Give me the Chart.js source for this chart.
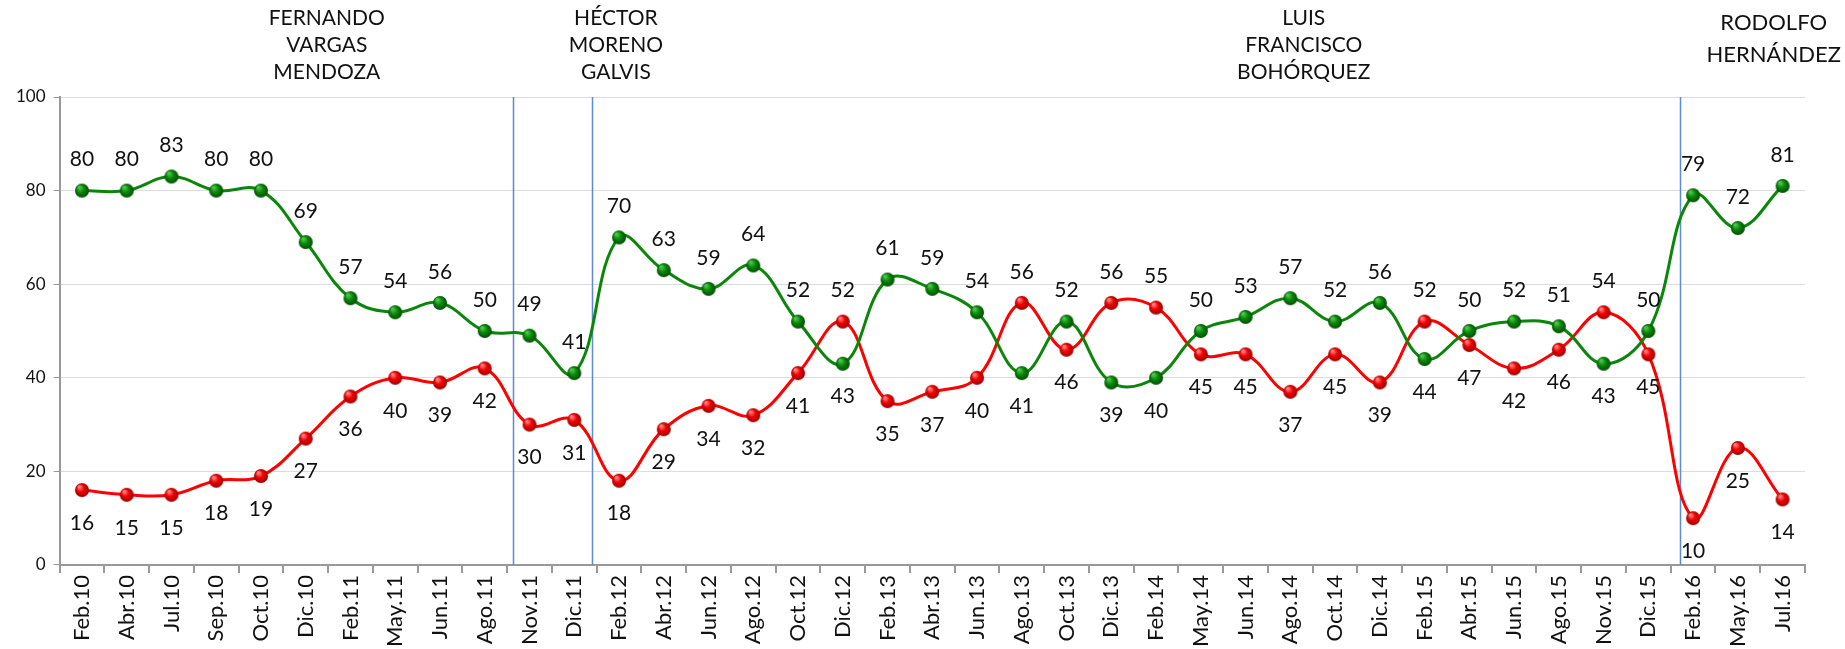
<!DOCTYPE html>
<html>
<head>
<meta charset="utf-8">
<script src="https://cdn.jsdelivr.net/npm/chart.js@4"></script>
<style>
  html, body { margin: 0; padding: 0; background: #fff; }
  #wrap { width: 1845px; height: 649px; }
</style>
</head>
<body>
<div id="wrap"><canvas id="myChart" width="1845" height="649"></canvas></div>
<script>
// categories (survey dates)
var categories = ['Feb.10','Abr.10','Jul.10','Sep.10','Oct.10','Dic.10','Feb.11','May.11','Jun.11','Ago.11',
    'Nov.11','Dic.11','Feb.12','Abr.12','Jun.12','Ago.12','Oct.12','Dic.12','Feb.13','Abr.13',
    'Jun.13','Ago.13','Oct.13','Dic.13','Feb.14','May.14','Jun.14','Ago.14','Oct.14','Dic.14',
    'Feb.15','Abr.15','Jun.15','Ago.15','Nov.15','Dic.15','Feb.16','May.16','Jul.16'];

// green series
var favorable = [80,80,83,80,80,69,57,54,56,50,49,41,70,63,59,64,52,43,61,59,
    54,41,52,39,40,50,53,57,52,56,44,50,52,51,43,50,79,72,81];

// red series
var unfavorable = [16,15,15,18,19,27,36,40,39,42,30,31,18,29,34,32,41,52,35,37,
    40,56,46,56,55,45,45,37,45,39,52,47,42,46,54,45,10,25,14];

var yTicks = [0, 20, 40, 60, 80, 100];

// mayors written above the chart
var mayorNames = [
    ['FERNANDO', 'VARGAS', 'MENDOZA'],
    ['HÉCTOR', 'MORENO', 'GALVIS'],
    ['LUIS', 'FRANCISCO', 'BOHÓRQUEZ'],
    ['RODOLFO', 'HERNÁNDEZ']
];
var mayorAt = [5.47, 11.93, 27.3, 37.8];   // in category units
var dividerAt = [9.64, 11.4, 35.71];       // vertical lines between terms

var FONT = 'Lato, "Open Sans", sans-serif';

function sphere(r, base, dark, light) {
    var c = document.createElement('canvas');
    c.width = c.height = 2 * r + 2;
    var g = c.getContext('2d');
    var grad = g.createRadialGradient(r * 0.75, r * 0.65, 1, r + 1, r + 1, r);
    grad.addColorStop(0, light);
    grad.addColorStop(0.45, base);
    grad.addColorStop(1, dark);
    g.fillStyle = grad;
    g.beginPath();
    g.arc(r + 1, r + 1, r, 0, Math.PI * 2);
    g.fill();
    return c;
}

var greenDot = sphere(7, '#0a8a0a', '#004d00', '#4fc44f');
var redDot = sphere(7, '#f20000', '#9a0000', '#ff8080');

// labels: the higher series gets its value above, the lower one below
var labelPlugin = {
    id: 'valueLabels',
    afterDatasetsDraw: function(chart) {
        var ctx = chart.ctx;
        ctx.save();
        ctx.font = '21px ' + FONT;
        ctx.fillStyle = '#111';
        ctx.textAlign = 'center';
        ctx.textBaseline = 'middle';
        [0, 1].forEach(function(di) {
            var meta = chart.getDatasetMeta(di);
            var vals = chart.data.datasets[di].data;
            var other = chart.data.datasets[1 - di].data;
            meta.data.forEach(function(pt, i) {
                var up = vals[i] >= other[i];
                var y = up ? pt.y - 31 : pt.y + 33;
                ctx.fillText(String(vals[i]), pt.x, y);
            });
        });
        ctx.restore();
    }
};

var termPlugin = {
    id: 'terms',
    beforeDatasetsDraw: function(chart) {
        var ctx = chart.ctx;
        var x = chart.scales.x, y = chart.scales.y;
        ctx.save();
        ctx.strokeStyle = '#5b8bd0';
        ctx.lineWidth = 1.5;
        dividerAt.forEach(function(v) {
            var px = Math.round(x.getPixelForValue(v)) + 0.5;
            ctx.beginPath();
            ctx.moveTo(px, y.getPixelForValue(100));
            ctx.lineTo(px, y.getPixelForValue(0));
            ctx.stroke();
        });
        ctx.restore();
    },
    afterDraw: function(chart) {
        var ctx = chart.ctx;
        var x = chart.scales.x;
        ctx.save();
        ctx.fillStyle = '#111';
        ctx.textAlign = 'center';
        ctx.textBaseline = 'middle';
        mayorNames.forEach(function(lines, k) {
            var px = x.getPixelForValue(mayorAt[k]);
            var big = lines.length === 2;
            ctx.font = (big ? '22px ' : '21px ') + FONT;
            var step = big ? 32 : 27;
            var top = big ? 23 : 18;
            lines.forEach(function(t, j) {
                ctx.fillText(t, px, top + j * step);
            });
        });
        ctx.restore();
    }
};

var ctx = document.getElementById('myChart').getContext('2d');
var myChart = new Chart(ctx, {
    type: 'line',
    data: {
        labels: categories,
        datasets: [{
            data: favorable,
            borderColor: '#0b860b',
            borderWidth: 3,
            tension: 0.4,
            pointStyle: greenDot,
            pointRadius: 7
        }, {
            data: unfavorable,
            borderColor: '#ff0000',
            borderWidth: 3,
            tension: 0.4,
            pointStyle: redDot,
            pointRadius: 7
        }]
    },
    options: {
        responsive: false,
        animation: false,
        layout: { padding: { top: 97, left: 8, right: 40, bottom: 0 } },
        plugins: {
            legend: { display: false },
            tooltip: { enabled: false }
        },
        scales: {
            x: {
                offset: true,
                grid: {
                    offset: true,
                    drawOnChartArea: false,
                    color: '#999',
                    tickLength: 8,
                    lineWidth: 2
                },
                border: { color: '#999', width: 2 },
                ticks: {
                    autoSkip: false,
                    minRotation: 90,
                    maxRotation: 90,
                    color: '#111',
                    font: { size: 22, family: FONT },
                    padding: 2
                }
            },
            y: {
                min: 0,
                max: 100,
                afterBuildTicks: function(scale) {
                    scale.ticks = yTicks.map(function(v) { return { value: v }; });
                },
                grid: {
                    color: '#dcdcdc',
                    tickLength: 6,
                    tickColor: '#999'
                },
                border: { color: '#999', width: 2, dash: [] },
                ticks: {
                    color: '#111',
                    font: { size: 17, family: FONT },
                    padding: 8
                }
            }
        }
    },
    plugins: [termPlugin, labelPlugin]
});
</script>
</body>
</html>
